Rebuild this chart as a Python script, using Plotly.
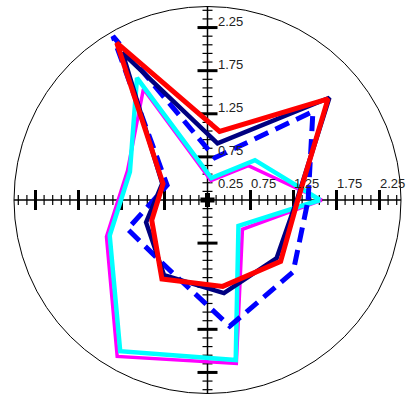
import numpy as np
import plotly.graph_objects as go

# Angles (degrees) of the sampled directions
theta = [0, 40, 80, 120, 160, 200, 240, 280, 320]

# Radial values per series
r_magenta = [1.33, 0.62, 0.23, 1.49, 0.99, 1.25, 2.10, 1.93, 0.53]
r_cyan = [1.31, 0.72, 0.26, 1.64, 0.96, 1.21, 2.03, 1.89, 0.47]
r_dashed = [1.17, 1.60, 0.50, 2.20, 0.50, 0.99, 0.92, 1.49, 1.30]
r_navy = [1.04, 1.85, 0.67, 1.98, 0.56, 0.76, 1.01, 1.10, 1.05]
r_red = [1.05, 1.83, 0.81, 2.11, 0.55, 0.69, 1.06, 1.02, 1.11]

# Axis tick labels
x_tick_labels = ["0.25", "0.75", "1.25", "1.75", "2.25"]
y_tick_labels = ["0.75", "1.25", "1.75", "2.25"]

R_MAX = 2.25


def closed(vals):
    return list(vals) + [vals[0]]


series = [
    (r_magenta, "#ff00ff", 3.5, "solid"),
    (r_cyan, "#00ffff", 4.5, "solid"),
    (r_dashed, "#0000ff", 5, "15px,8px"),
    (r_navy, "#000080", 4.5, "solid"),
    (r_red, "#ff0000", 5, "solid"),
]

fig = go.Figure()
for r, color, width, dash in series:
    fig.add_trace(go.Scatterpolar(
        r=closed(r), theta=closed(theta), mode="lines",
        line=dict(color=color, width=width, dash=dash),
        showlegend=False, hoverinfo="skip",
    ))

# Crossing axes drawn through the centre, with major/minor ticks
shapes = []
axis_style = dict(color="black", width=1.5)
shapes.append(dict(type="line", xref="x", yref="y", x0=-R_MAX, x1=R_MAX, y0=0, y1=0,
                   line=axis_style, layer="below"))
shapes.append(dict(type="line", xref="x", yref="y", x0=0, x1=0, y0=-R_MAX, y1=R_MAX,
                   line=axis_style, layer="below"))

px_per_unit = 86.0
for k in range(-22, 23):
    v = k / 10.0
    major = (k % 5 == 0)
    half = (10 if major else 5) / px_per_unit
    w = 3 if major else 1.2
    if k == 0:
        half = 7 / px_per_unit
        w = 5
    shapes.append(dict(type="line", xref="x", yref="y", x0=v, x1=v, y0=-half, y1=half,
                       line=dict(color="black", width=w), layer="below"))
    shapes.append(dict(type="line", xref="x", yref="y", x0=-half, x1=half, y0=v, y1=v,
                       line=dict(color="black", width=w), layer="below"))

annotations = []
label_font = dict(family="Arial", size=13, color="#222")
x_label_pos = [0.12, 0.5, 1.0, 1.5, 2.0]
for txt, xp in zip(x_tick_labels, x_label_pos):
    annotations.append(dict(text=txt, x=xp, y=0.19, xref="x", yref="y", showarrow=False,
                            xanchor="left", yanchor="middle", font=label_font,
                            xshift=-2))
y_label_pos = [0.5, 1.0, 1.5, 2.0]
for txt, yp in zip(y_tick_labels, y_label_pos):
    annotations.append(dict(text=txt, x=0.12, y=yp + 0.07, xref="x", yref="y", showarrow=False,
                            xanchor="left", yanchor="middle", font=label_font,
                            xshift=-2))

fig.update_layout(
    width=409, height=396,
    margin=dict(l=14, r=7.6, t=6.3, b=2.3),
    paper_bgcolor="white", plot_bgcolor="rgba(0,0,0,0)",
    xaxis=dict(range=[-R_MAX, R_MAX], visible=False, fixedrange=True),
    yaxis=dict(range=[-R_MAX, R_MAX], visible=False, fixedrange=True),
    polar=dict(
        domain=dict(x=[0, 1], y=[0, 1]),
        bgcolor="rgba(0,0,0,0)",
        radialaxis=dict(range=[0, R_MAX], visible=False),
        angularaxis=dict(rotation=0, direction="counterclockwise", showgrid=False,
                         showticklabels=False, ticks="", showline=True,
                         linecolor="black", linewidth=1),
    ),
    shapes=shapes,
    annotations=annotations,
    showlegend=False,
)

fig.write_html("out.html")
